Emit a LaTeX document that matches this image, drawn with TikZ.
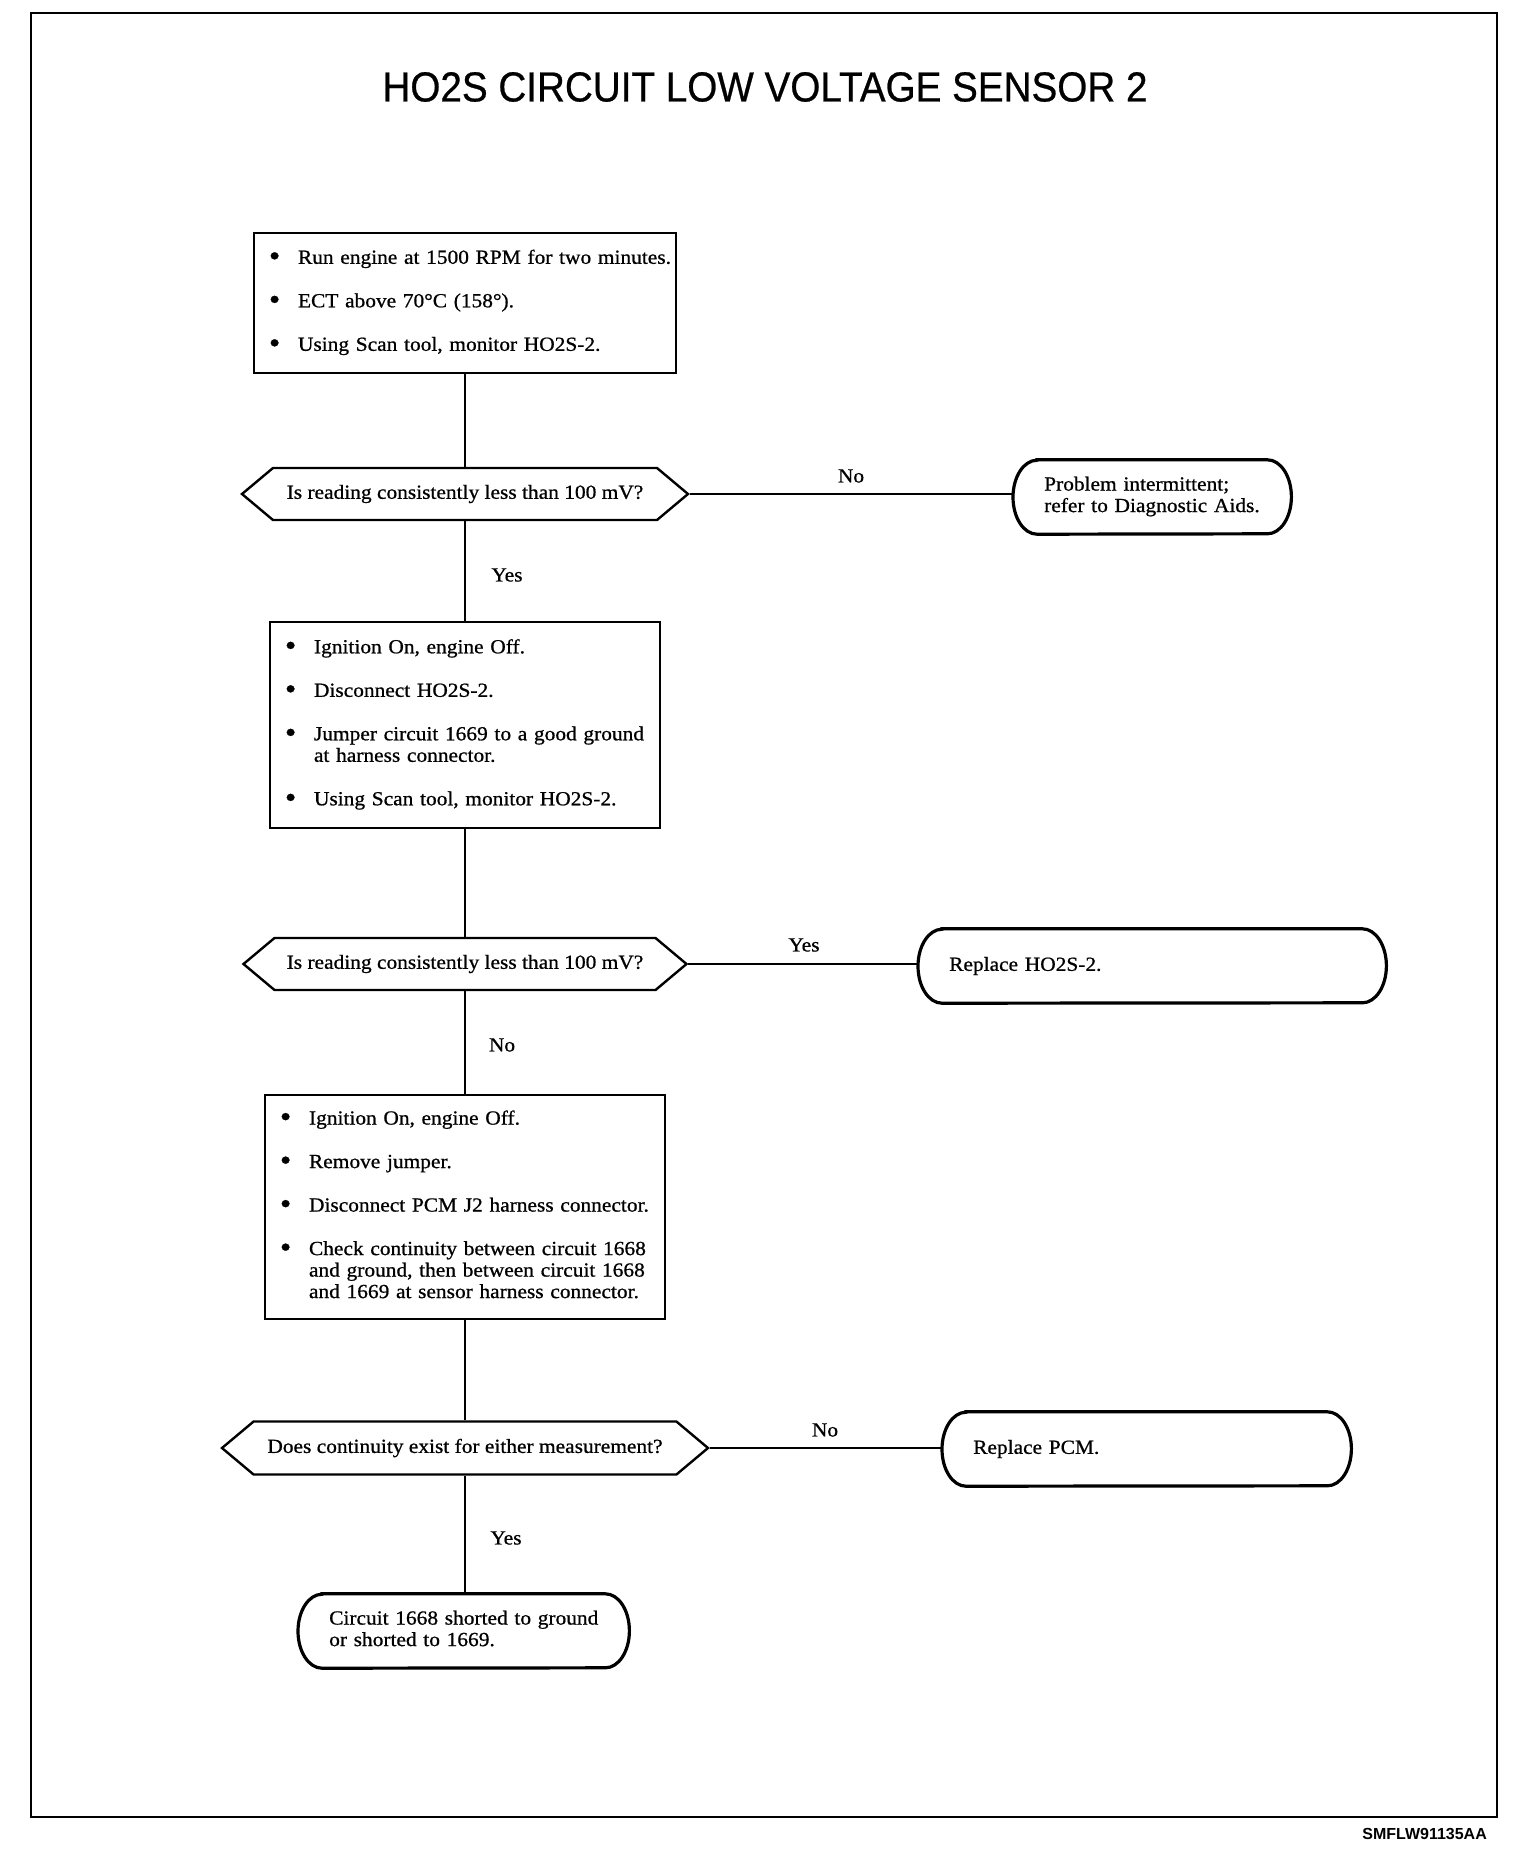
\documentclass[tikz,border=0pt]{standalone}
\usepackage{graphicx}
\usepackage{fontspec}
\setmainfont[FakeStretch=1.07,FakeBold=0.8]{Liberation Serif}
\newfontfamily\titlefont[FakeStretch=0.92,FakeBold=0.6]{Liberation Sans}
\newfontfamily\footfont{Liberation Sans}
\usetikzlibrary{shapes.symbols}
\newcommand\bodysize{\fontsize{20}{21.5}\selectfont}
\newcommand\bl{\raisebox{-0.1em}{\scalebox{1.5}{\textbullet}}}
\begin{document}
\begin{tikzpicture}[x=1pt,y=-1pt,
  frame/.style={draw, line width=2.6pt},
  conn/.style={draw, line width=2pt},
  stepbox/.style={draw, line width=2.8pt, rectangle, inner xsep=15pt, inner ysep=0pt, align=left, font=\bodysize},
  decision/.style={draw, line width=2.4pt, shape=signal, signal to=west and east, signal pointer angle=80, inner sep=0pt, font=\bodysize},
  term/.style={rectangle, inner xsep=31pt, inner ysep=0pt, align=left, minimum height=74pt, font=\bodysize},
  termline/.style={draw, line width=3.2pt},
  lbl/.style={font=\bodysize, inner sep=0pt},
]
\useasboundingbox (0,0) rectangle (1520,1852);
\draw[frame] (31,13) rectangle (1497,1817);

\node[font=\titlefont\fontsize{42}{42}\selectfont] (title) at (765,87) {HO2S CIRCUIT LOW VOLTAGE SENSOR 2};

% step boxes
\node[stepbox, text width=392pt, minimum height=140pt] (b1) at (465,303) {%
\begin{tabular}{@{}p{29pt}@{}l@{}}
\bl & Run engine at 1500 RPM for two minutes.\\[22pt]
\bl & ECT above 70°C (158°).\\[22pt]
\bl & Using Scan tool, monitor HO2S-2.
\end{tabular}};

\node[decision, minimum width=446pt, minimum height=52pt] (d1) at (465,494) {Is reading consistently less than 100 mV?};

\node[stepbox, text width=360pt, minimum height=206pt] (b2) at (465,725) {%
\begin{tabular}{@{}p{29pt}@{}l@{}}
\bl & Ignition On, engine Off.\\[22pt]
\bl & Disconnect HO2S-2.\\[22pt]
\bl & Jumper circuit 1669 to a good ground\\
    & at harness connector.\\[22pt]
\bl & Using Scan tool, monitor HO2S-2.
\end{tabular}};

\node[decision, minimum width=443pt, minimum height=52pt] (d2) at (465,964) {Is reading consistently less than 100 mV?};

\node[stepbox, text width=370pt, minimum height=224pt] (b3) at (465,1207) {%
\begin{tabular}{@{}p{29pt}@{}l@{}}
\bl & Ignition On, engine Off.\\[22pt]
\bl & Remove jumper.\\[22pt]
\bl & Disconnect PCM J2 harness connector.\\[22pt]
\bl & Check continuity between circuit 1668\\
    & and ground, then between circuit 1668\\
    & and 1669 at sensor harness connector.
\end{tabular}};

\node[decision, minimum width=486pt, minimum height=53pt] (d3) at (465,1448) {Does continuity exist for either measurement?};

% terminals
\node[term, anchor=west, text width=216pt] (t1) at (1013,497) {\begin{tabular}{@{}l@{}}Problem intermittent;\\refer to Diagnostic Aids.\end{tabular}};
\node[term, anchor=west, text width=406pt] (t2) at (918,966) {Replace HO2S-2.};
\node[term, anchor=west, text width=347pt] (t3) at (942,1449) {Replace PCM.};
\node[term, anchor=west, text width=269pt] (t4) at (298,1631) {\begin{tabular}{@{}l@{}}Circuit 1668 shorted to ground\\or shorted to 1669.\end{tabular}};
\foreach \n in {t1,t2,t3,t4}{
  \draw[termline] ([xshift=24pt]\n.north west) -- ([xshift=-24pt]\n.north east)
    arc[start angle=-90, end angle=90, x radius=24, y radius=37]
    -- ([xshift=24pt]\n.south west)
    arc[start angle=90, end angle=270, x radius=24, y radius=37] -- cycle;
}

% connectors
\draw[conn] (b1.south) -- (b1.south |- d1.north);
\draw[conn] (d1.south) -- (d1.south |- b2.north);
\draw[conn] (b2.south) -- (b2.south |- d2.north);
\draw[conn] (d2.south) -- (d2.south |- b3.north);
\draw[conn] (b3.south) -- (b3.south |- d3.north);
\draw[conn] (d3.south) -- (d3.south |- t4.north);
\draw[conn] (d1.east) -- (d1.east -| t1.west);
\draw[conn] (d2.east) -- (d2.east -| t2.west);
\draw[conn] (d3.east) -- (d3.east -| t3.west);

% labels
\node[lbl] (l1) at (851,476) {No};
\node[lbl] (l2) at (507,575) {Yes};
\node[lbl] (l3) at (804,945) {Yes};
\node[lbl] (l4) at (502,1045) {No};
\node[lbl] (l5) at (825,1430) {No};
\node[lbl] (l6) at (506,1538) {Yes};

\node[font=\footfont\bfseries\fontsize{16}{16}\selectfont, anchor=east, inner sep=0pt] (code) at (1487,1834) {SMFLW91135AA};
\end{tikzpicture}
\end{document}
